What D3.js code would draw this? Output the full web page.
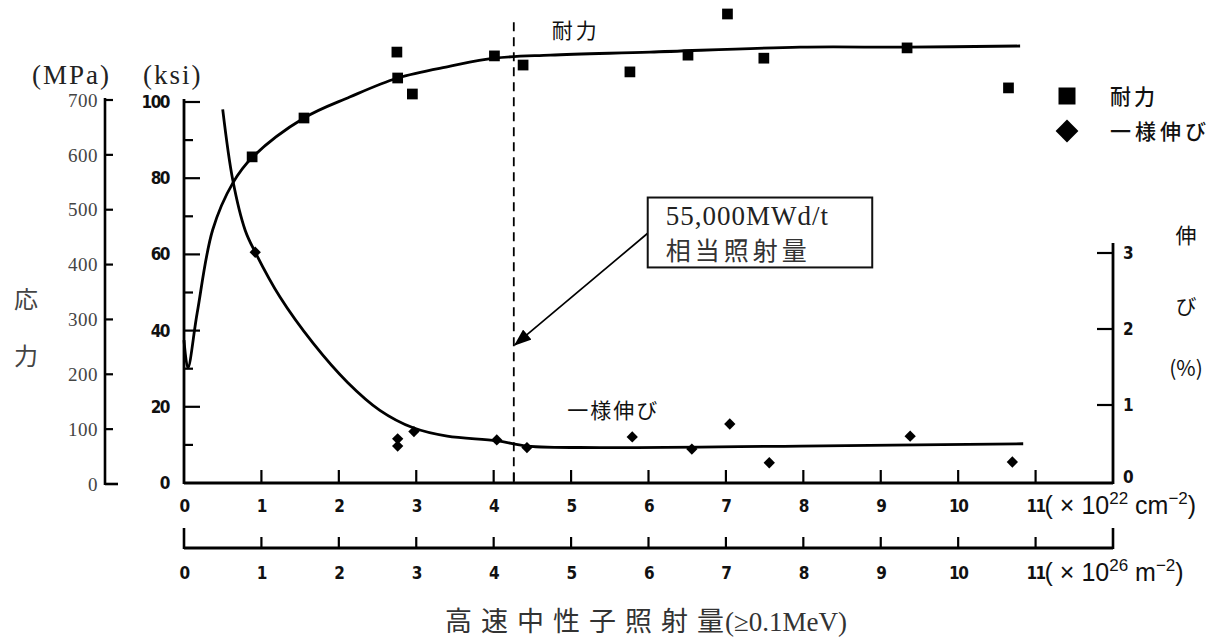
<!DOCTYPE html>
<html><head><meta charset="utf-8">
<script src="https://cdn.jsdelivr.net/npm/d3@7"></script>
<style>
body{margin:0;background:#fff;}
svg{display:block;}
.tk{font-family:"DejaVu Sans Condensed","Liberation Sans Narrow","Liberation Sans",sans-serif;font-weight:bold;font-size:17px;fill:#111;}
.serif{font-family:"Liberation Serif","DejaVu Serif",serif;}
.cjk{font-family:"Noto Sans CJK JP",sans-serif;}
</style></head><body>
<svg id="c" width="1231" height="642"></svg>
<script>
// ---- data ----
const xTicks = [0,1,2,3,4,5,6,7,8,9,10,11];
const ksiTicks = [0,20,40,60,80,100];
const ksiMinor = [10,30,50,70,90];
const mpaTicks = [0,100,200,300,400,500,600,700];
const elTicks = [0,1,2,3];

// 耐力 (ksi) measured points
const strengthX = [0.88,1.55,2.75,2.76,2.95,4.01,4.38,5.76,6.51,7.02,7.49,9.34,10.65];
const strengthY = [85.6,95.8,113.1,106.3,102.1,112.1,109.7,107.9,112.3,123.1,111.5,114.2,103.7];
// 耐力 fitted curve
const sCurveX = [0,0.05,0.17,0.37,0.63,0.89,1.55,2.14,2.76,3.44,4.01,4.73,6.02,7.96,9.34,10.8];
const sCurveY = [37.5,30.2,44.6,66.4,78.7,85.6,95.8,101.3,106.3,109.4,111.5,112.3,113.1,114.4,114.4,114.7];

// 一様伸び (%) measured points
const elongX = [0.92,2.76,2.76,2.97,4.04,4.43,5.79,6.56,7.05,7.56,9.38,10.70];
const elongY = [3.01,0.555,0.46,0.65,0.54,0.44,0.58,0.42,0.75,0.24,0.59,0.25];
// 一様伸び fitted curve
const eCurveX = [0.50,0.63,0.79,0.92,1.24,1.67,2.11,2.53,2.96,3.40,4.04,4.43,5.37,7.96,10.84];
const eCurveY = [4.89,3.96,3.30,3.01,2.42,1.81,1.30,0.93,0.70,0.59,0.53,0.46,0.44,0.46,0.49];

const burnupX = 4.26; // 55,000MWd/t equivalent fluence

// ---- scales ----
const svg = d3.select("#c");
const x = d3.scaleLinear().domain([0,12]).range([184,1113]);
const ksi = d3.scaleLinear().domain([0,100]).range([483,102]);
const mpa = d3.scaleLinear().domain([0,700]).range([484,100]);
const el = d3.scaleLinear().domain([0,3]).range([481,253]);

const g = svg.append("g");
const stroke = "#000";

// ---- MPa axis ----
const mpaX = 105;
const ga = g.append("g").attr("transform",`translate(${mpaX},0)`);
ga.append("line").attr("x1",0).attr("x2",0).attr("y1",mpa(700)-2).attr("y2",mpa(0)+1).attr("stroke",stroke).attr("stroke-width",2.6);
ga.append("line").attr("x1",0).attr("x2",13).attr("y1",mpa(0)).attr("y2",mpa(0)).attr("stroke",stroke).attr("stroke-width",2.6);
ga.selectAll("line.t").data(mpaTicks.slice(1)).join("line").attr("class","t")
  .attr("x1",0).attr("x2",8).attr("y1",d=>mpa(d)).attr("y2",d=>mpa(d)).attr("stroke",stroke).attr("stroke-width",2.2);
ga.selectAll("text.ml").data(mpaTicks).join("text").attr("class","serif ml")
  .attr("x",-7).attr("y",d=>mpa(d)).attr("dy","0.35em").attr("text-anchor","end")
  .attr("font-size",19).attr("letter-spacing","0.5px").attr("fill","#444").text(d=>d);

// ---- ksi axis ----
const gk = g.append("g").attr("transform",`translate(${x(0)},0)`);
gk.append("line").attr("x1",0).attr("x2",0).attr("y1",ksi(100)-3).attr("y2",ksi(0)+1).attr("stroke",stroke).attr("stroke-width",2.8);
gk.selectAll("line.maj").data(ksiTicks.slice(1)).join("line").attr("class","maj")
  .attr("x1",0).attr("x2",16).attr("y1",d=>ksi(d)).attr("y2",d=>ksi(d)).attr("stroke",stroke).attr("stroke-width",2.2);
gk.selectAll("line.min").data(ksiMinor).join("line").attr("class","min")
  .attr("x1",0).attr("x2",9).attr("y1",d=>ksi(d)).attr("y2",d=>ksi(d)).attr("stroke",stroke).attr("stroke-width",2.2);
gk.selectAll("text.kl").data(ksiTicks).join("text").attr("class","tk kl")
  .attr("x",-15).attr("y",d=>ksi(d)).attr("dy","0.35em").attr("text-anchor","end").attr("font-size",18)
  .attr("letter-spacing","-1.5px").text(d=>d);

// ---- top x axis (cm^-2) ----
const gx = g.append("g").attr("transform",`translate(0,${ksi(0)})`);
gx.append("line").attr("x1",x(0)).attr("x2",x(12)).attr("y1",0).attr("y2",0).attr("stroke",stroke).attr("stroke-width",2.8);
gx.selectAll("line.t").data(xTicks.slice(1)).join("line").attr("class","t")
  .attr("x1",d=>x(d)).attr("x2",d=>x(d)).attr("y1",0).attr("y2",-13).attr("stroke",stroke).attr("stroke-width",2.2);
gx.append("line").attr("x1",x(burnupX)).attr("x2",x(burnupX)).attr("y1",0).attr("y2",-10).attr("stroke",stroke).attr("stroke-width",1.8);
gx.selectAll("text.xl").data(xTicks).join("text").attr("class","tk xl")
  .attr("x",d=>x(d)).attr("y",29).attr("text-anchor","middle").attr("letter-spacing","-1.5px").text(d=>d);
const u1 = gx.append("text").attr("x",x(11)+9).attr("y",31).attr("font-family","Liberation Sans, Arial, sans-serif").attr("font-size",25).attr("fill","#111");
u1.append("tspan").text("( × 10");
u1.append("tspan").attr("dy",-10).attr("font-size",17).text("22");
u1.append("tspan").attr("dy",10).text(" cm");
u1.append("tspan").attr("dy",-10).attr("font-size",17).text("−2");
u1.append("tspan").attr("dy",10).text(")");

// ---- bottom x axis (m^-2) ----
const gx2 = g.append("g").attr("transform",`translate(0,548)`);
gx2.append("line").attr("x1",x(0)).attr("x2",x(12)).attr("y1",0).attr("y2",0).attr("stroke",stroke).attr("stroke-width",2.8);
gx2.selectAll("line.t").data(xTicks.slice(1)).join("line").attr("class","t")
  .attr("x1",d=>x(d)).attr("x2",d=>x(d)).attr("y1",0).attr("y2",-11).attr("stroke",stroke).attr("stroke-width",2.2);
gx2.selectAll("line.e").data([0,12]).join("line").attr("class","e")
  .attr("x1",d=>x(d)).attr("x2",d=>x(d)).attr("y1",1).attr("y2",-20).attr("stroke",stroke).attr("stroke-width",2.6);
gx2.selectAll("text.xl").data(xTicks).join("text").attr("class","tk xl")
  .attr("x",d=>x(d)).attr("y",31).attr("text-anchor","middle").attr("letter-spacing","-1.5px").text(d=>d);
const u2 = gx2.append("text").attr("x",x(11)+9).attr("y",33).attr("font-family","Liberation Sans, Arial, sans-serif").attr("font-size",25).attr("fill","#111");
u2.append("tspan").text("( × 10");
u2.append("tspan").attr("dy",-10).attr("font-size",17).text("26");
u2.append("tspan").attr("dy",10).text(" m");
u2.append("tspan").attr("dy",-10).attr("font-size",17).text("−2");
u2.append("tspan").attr("dy",10).text(")");

// ---- right elongation axis ----
const gr = g.append("g").attr("transform",`translate(${x(12)},0)`);
gr.append("line").attr("x1",0).attr("x2",0).attr("y1",el(3)-10).attr("y2",ksi(0)+1).attr("stroke",stroke).attr("stroke-width",2.8);
gr.selectAll("line.t").data(elTicks.slice(1)).join("line").attr("class","t")
  .attr("x1",0).attr("x2",-16).attr("y1",d=>el(d)).attr("y2",d=>el(d)).attr("stroke",stroke).attr("stroke-width",2.2);
gr.selectAll("text.rl").data(elTicks).join("text").attr("class","tk rl")
  .attr("x",10).attr("y",d=>d===0?el(d)-4:el(d)).attr("dy","0.35em").attr("font-size",17).text(d=>d);

// ---- dashed line ----
g.append("line").attr("x1",x(burnupX)).attr("x2",x(burnupX)).attr("y1",ksi(123)+8).attr("y2",ksi(0))
  .attr("stroke",stroke).attr("stroke-width",1.8).attr("stroke-dasharray","9,6");

// ---- curves ----
const line = d3.line().curve(d3.curveCatmullRom.alpha(0.5));
g.append("path").attr("d",line(sCurveX.map((d,i)=>[x(d),ksi(sCurveY[i])])))
  .attr("fill","none").attr("stroke",stroke).attr("stroke-width",2.8);
g.append("path").attr("d",line(eCurveX.map((d,i)=>[x(d),el(eCurveY[i])])))
  .attr("fill","none").attr("stroke",stroke).attr("stroke-width",2.8);

// ---- markers ----
const sq = d3.symbol(d3.symbolSquare,115);
g.selectAll("path.sq").data(strengthX).join("path").attr("class","sq")
  .attr("d",sq).attr("transform",(d,i)=>`translate(${x(d)},${ksi(strengthY[i])})`).attr("fill","#000");
const dm = d3.symbol(d3.symbolSquare,64);
g.selectAll("path.dm").data(elongX).join("path").attr("class","dm")
  .attr("d",dm).attr("transform",(d,i)=>`translate(${x(d)},${el(elongY[i])}) rotate(45)`).attr("fill","#000");

// ---- in-chart labels ----
g.append("text").attr("class","cjk").attr("x",x(4.75)).attr("y",ksi(118.7)).attr("dy","0.35em")
  .attr("font-size",21).attr("fill","#111").attr("letter-spacing","3px").text("耐力");
g.append("text").attr("class","cjk").attr("x",x(4.95)).attr("y",el(0.93)).attr("dy","0.35em")
  .attr("font-size",21).attr("fill","#111").attr("letter-spacing","2px").text("一様伸び");

// ---- annotation box + arrow ----
const bx0 = x(5.99), bx1 = x(8.89), by0 = el(3.73), by1 = el(2.81);
svg.append("defs").append("marker").attr("id","ah").attr("viewBox","0 0 16 12").attr("refX",15).attr("refY",6)
  .attr("markerWidth",18).attr("markerHeight",13).attr("markerUnits","userSpaceOnUse").attr("orient","auto")
  .append("path").attr("d","M0,0 L16,6 L0,12 z").attr("fill","#000");
g.append("line").attr("x1",bx0).attr("y1",el(3.26)).attr("x2",x(burnupX)+1).attr("y2",el(1.79))
  .attr("stroke","#000").attr("stroke-width",1.7).attr("marker-end","url(#ah)");
g.append("rect").attr("x",bx0).attr("y",by0).attr("width",bx1-bx0).attr("height",by1-by0)
  .attr("fill","#fff").attr("stroke","#111").attr("stroke-width",2);
g.append("text").attr("class","serif").attr("x",bx0+18).attr("y",by0+27).attr("font-size",27).attr("letter-spacing","1px").attr("fill","#222").text("55,000MWd/t");
g.append("text").attr("class","cjk").attr("x",bx0+18).attr("y",by0+62).attr("font-size",25).attr("fill","#333").attr("letter-spacing","4px").text("相当照射量");

// ---- legend ----
const lg = g.append("g");
lg.append("path").attr("d",d3.symbol(d3.symbolSquare,289)).attr("transform","translate(1067,96)").attr("fill","#000");
lg.append("path").attr("d",d3.symbol(d3.symbolSquare,260)).attr("transform","translate(1067,131) rotate(45)").attr("fill","#000");
lg.append("text").attr("class","cjk").attr("x",1110).attr("y",97).attr("dy","0.35em").attr("font-size",21).attr("font-weight",500).attr("letter-spacing","3px").attr("fill","#111").text("耐力");
lg.append("text").attr("class","cjk").attr("x",1110).attr("y",132).attr("dy","0.35em").attr("font-size",21).attr("font-weight",500).attr("letter-spacing","4px").attr("fill","#111").text("一様伸び");

// ---- axis titles ----
g.append("text").attr("class","serif").attr("x",32).attr("y",84).attr("font-size",27).attr("letter-spacing","2px").attr("fill","#222").text("(MPa)");
g.append("text").attr("class","serif").attr("x",143).attr("y",84).attr("font-size",27).attr("letter-spacing","2px").attr("fill","#222").text("(ksi)");
g.append("text").attr("class","cjk").attr("x",26).attr("y",300).attr("dy","0.35em").attr("text-anchor","middle").attr("font-size",24).attr("fill","#444").text("応");
g.append("text").attr("class","cjk").attr("x",26).attr("y",357).attr("dy","0.35em").attr("text-anchor","middle").attr("font-size",24).attr("fill","#444").text("力");
g.append("text").attr("class","cjk").attr("x",1186).attr("y",236).attr("dy","0.35em").attr("text-anchor","middle").attr("font-size",21).attr("fill","#111").text("伸");
g.append("text").attr("class","cjk").attr("x",1186).attr("y",307).attr("dy","0.35em").attr("text-anchor","middle").attr("font-size",21).attr("fill","#111").text("び");
g.append("text").attr("class","cjk").attr("x",1186).attr("y",369).attr("dy","0.35em").attr("text-anchor","middle").attr("font-size",21).attr("fill","#111").text("(%)");

const bt = g.append("text").attr("x",445).attr("y",625).attr("dy","0.35em").attr("fill","#333");
bt.append("tspan").attr("class","cjk").attr("font-size",27).attr("letter-spacing","9px").text("高速中性子照射量");
bt.append("tspan").attr("class","serif").attr("font-size",27).attr("dx",-8).text("(≥0.1MeV)");
</script>
</body></html>
